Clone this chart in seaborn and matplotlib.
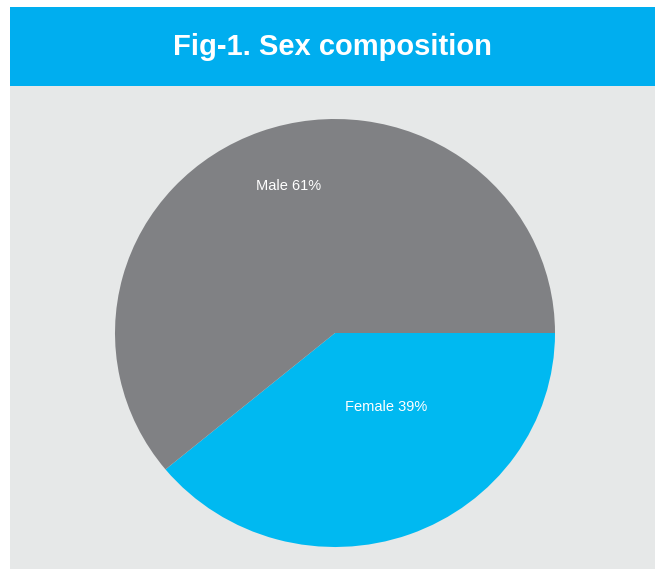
import matplotlib
matplotlib.use("Agg")
import matplotlib.pyplot as plt
import seaborn as sns
from matplotlib.patches import Rectangle
from matplotlib import font_manager

sns.set_theme(style="white")

categories = ["Female", "Male"]
shares = [39, 61]
colors = ["#00B9F1", "#808184"]
title = "Fig-1. Sex composition"

names = {f.name for f in font_manager.fontManager.ttflist}
title_font = "Liberation Sans Narrow" if "Liberation Sans Narrow" in names else "Liberation Sans"
plt.rcParams["font.family"] = ["Liberation Sans", "DejaVu Sans"]

W, H = 655, 569
fig = plt.figure(figsize=(W / 100, H / 100), dpi=100)
fig.patch.set_facecolor("white")

# grey panel and blue header
fig.patches.append(Rectangle((10 / W, 0), 1 - 10 / W, 1 - 86 / H, transform=fig.transFigure,
                             facecolor="#E6E8E8", edgecolor="none", zorder=-2))
fig.patches.append(Rectangle((10 / W, 1 - 86 / H), 1 - 10 / W, 79 / H, transform=fig.transFigure,
                             facecolor="#00AEEF", edgecolor="none", zorder=-2))
fig.text((10 + W) / 2 / W, 1 - 47 / H, title, ha="center", va="center", color="white",
         fontsize=21, fontweight="bold", family=[title_font, "DejaVu Sans"])

cx, cy, rx, ry = 335, 333, 220, 214
ax = fig.add_axes([(cx - rx) / W, (H - cy - ry) / H, 2 * rx / W, 2 * ry / H])
ax.set_facecolor("none")
ax.set_zorder(1)
labels = [f"{c} {v}%" for c, v in zip(categories, shares)]
wedges, texts = ax.pie(shares, labels=labels, colors=colors, startangle=0, counterclock=False,
                       labeldistance=0.6, radius=1,
                       textprops=dict(color="white", fontsize=10.5, ha="center", va="center"),
                       wedgeprops=dict(linewidth=0))
label_pos = {"Female": (0.232, -0.345), "Male": (-0.209, 0.685)}
for t, c in zip(texts, categories):
    t.set_position(label_pos[c])
ax.set_xlim(-1, 1)
ax.set_ylim(-1, 1)
ax.set_aspect("auto")
ax.axis("off")

fig.savefig("out.png", dpi=100, facecolor="white")
